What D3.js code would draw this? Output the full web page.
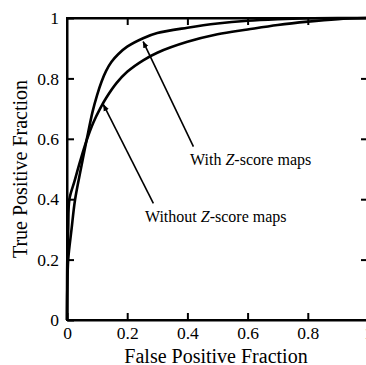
<!DOCTYPE html>
<html>
<head>
<meta charset="utf-8">
<script src="https://cdn.jsdelivr.net/npm/d3@7"></script>
<style>
  html, body { margin: 0; padding: 0; background: #fff; }
  svg { display: block; }
  text { font-family: "Liberation Serif", "Times New Roman", serif; fill: #000; }
</style>
</head>
<body>
<svg id="chart" width="366" height="365"></svg>
<script>
// ----- data -----
const withFPR = [0, 0.001, 0.004, 0.015, 0.027, 0.046, 0.066, 0.085, 0.1, 0.115, 0.13, 0.148, 0.17, 0.2, 0.253, 0.3, 0.4, 0.5, 0.6, 0.7, 0.8, 0.9, 1];
const withTPR = [0, 0.1, 0.2, 0.3, 0.4, 0.5, 0.6, 0.69, 0.745, 0.79, 0.825, 0.855, 0.88, 0.905, 0.933, 0.95, 0.968, 0.982, 0.991, 0.996, 0.999, 1, 1];
const withoutFPR = [0, 0.001, 0.004, 0.008, 0.025, 0.045, 0.067, 0.088, 0.11, 0.13, 0.165, 0.2, 0.253, 0.3, 0.4, 0.5, 0.6, 0.7, 0.8, 0.9, 1];
const withoutTPR = [0, 0.2, 0.3, 0.4, 0.46, 0.53, 0.6, 0.655, 0.7, 0.735, 0.785, 0.822, 0.86, 0.885, 0.921, 0.946, 0.962, 0.977, 0.988, 0.996, 1];
const xTicks = [0, 0.2, 0.4, 0.6, 0.8, 1];
const yTicks = [0, 0.2, 0.4, 0.6, 0.8, 1];
const xTickLabels = ["0", "0.2", "0.4", "0.6", "0.8", "1"];
const yTickLabels = ["0", "0.2", "0.4", "0.6", "0.8", "1"];
const annotations = [
  { label: "With", italic: "Z", rest: "-score maps", textX: 0.409, textY: 0.513, fromX: 0.42, fromY: 0.574, toX: 0.253, toY: 0.922 },
  { label: "Without", italic: "Z", rest: "-score maps", textX: 0.259, textY: 0.325, fromX: 0.287, fromY: 0.386, toX: 0.121, toY: 0.713 }
];
const xTitle = "False Positive Fraction";
const yTitle = "True Positive Fraction";

// ----- layout -----
const svg = d3.select("#chart");
const x = d3.scaleLinear().domain([0, 1]).range([67, 368]);
const y = d3.scaleLinear().domain([0, 1]).range([320, 18]);
const tickLen = 7;

// frame
svg.append("rect")
  .attr("x", x(0)).attr("y", y(1))
  .attr("width", x(1) - x(0)).attr("height", y(0) - y(1))
  .attr("fill", "none").attr("stroke", "#000").attr("stroke-width", 2);

// axes (ticks inside)
const gBottom = svg.append("g").attr("transform", `translate(0,${y(0)})`)
  .call(d3.axisBottom(x).tickValues(xTicks).tickSizeInner(-tickLen).tickSizeOuter(0).tickPadding(7)
    .tickFormat((d, i) => xTickLabels[i]));
const gLeft = svg.append("g").attr("transform", `translate(${x(0)},0)`)
  .call(d3.axisLeft(y).tickValues(yTicks).tickSizeInner(-tickLen).tickSizeOuter(0).tickPadding(8)
    .tickFormat((d, i) => yTickLabels[i]));
const gTop = svg.append("g").attr("transform", `translate(0,${y(1)})`)
  .call(d3.axisTop(x).tickValues(xTicks.slice(1, -1)).tickSizeInner(-tickLen).tickSizeOuter(0).tickFormat(""));
const gRight = svg.append("g").attr("transform", `translate(${x(1)},0)`)
  .call(d3.axisRight(y).tickValues(yTicks.slice(1, -1)).tickSizeInner(-tickLen).tickSizeOuter(0).tickFormat(""));

[gBottom, gLeft, gTop, gRight].forEach(g => {
  g.select(".domain").attr("stroke", "#000").attr("stroke-width", 2);
  g.selectAll(".tick line").attr("stroke", "#000").attr("stroke-width", 2);
  g.selectAll(".tick text").attr("font-family", "Liberation Serif, Times New Roman, serif")
    .attr("font-size", 17.5).attr("fill", "#000");
});

// curves
const line = d3.line().x(d => x(d[0])).y(d => y(d[1])).curve(d3.curveCatmullRom.alpha(0.5));
const withData = withFPR.map((v, i) => [v, withTPR[i]]);
const withoutData = withoutFPR.map((v, i) => [v, withoutTPR[i]]);
[withData, withoutData].forEach(data => {
  svg.append("path").datum(data).attr("d", line)
    .attr("fill", "none").attr("stroke", "#000").attr("stroke-width", 2.6)
    .attr("stroke-linejoin", "round");
});

// arrow marker
svg.append("defs").append("marker")
  .attr("id", "arrow").attr("viewBox", "0 0 10 10")
  .attr("refX", 9).attr("refY", 5)
  .attr("markerWidth", 7).attr("markerHeight", 7)
  .attr("markerUnits", "userSpaceOnUse")
  .attr("orient", "auto")
  .append("path").attr("d", "M0,1 L10,5 L0,9 Z").attr("fill", "#000");

annotations.forEach(a => {
  svg.append("line")
    .attr("x1", x(a.fromX)).attr("y1", y(a.fromY))
    .attr("x2", x(a.toX)).attr("y2", y(a.toY))
    .attr("stroke", "#000").attr("stroke-width", 1.6)
    .attr("marker-end", "url(#arrow)");
  const t = svg.append("text").attr("x", x(a.textX)).attr("y", y(a.textY)).attr("font-size", 16);
  t.append("tspan").text(a.label + " ");
  t.append("tspan").attr("font-style", "italic").text(a.italic);
  t.append("tspan").text(a.rest);
});

// titles
svg.append("text").attr("x", 216).attr("y", 363)
  .attr("text-anchor", "middle").attr("font-size", 20).text(xTitle);
svg.append("text").attr("transform", `translate(27,${(y(0) + y(1)) / 2}) rotate(-90)`)
  .attr("text-anchor", "middle").attr("font-size", 20).text(yTitle);
</script>
</body>
</html>
